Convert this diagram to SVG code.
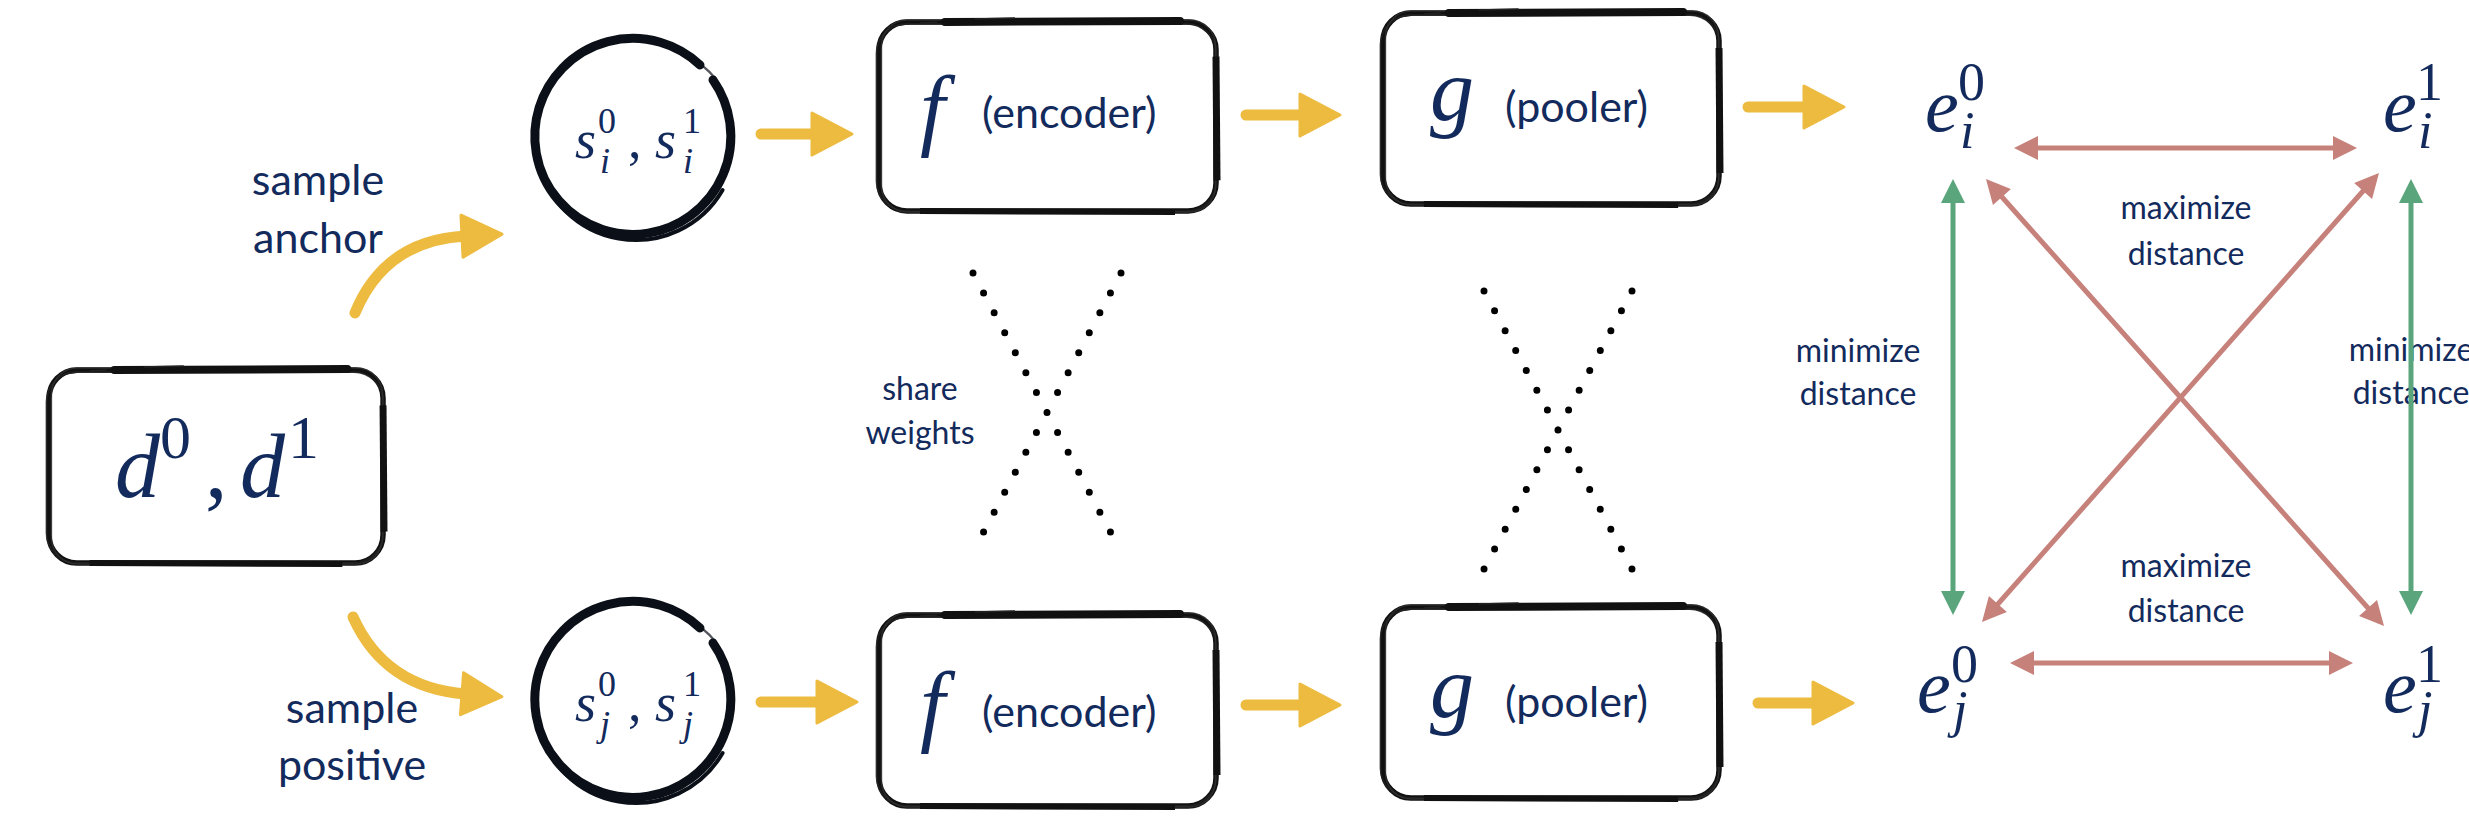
<svg xmlns="http://www.w3.org/2000/svg" width="2469" height="825" viewBox="0 0 2469 825">
<style>
.m{font-family:"Liberation Serif","DejaVu Serif",serif;fill:#132a5c}
.it{font-style:italic}
.lb{font-family:Lato,"Open Sans",sans-serif;fill:#132a5c;text-anchor:middle}
.yl{stroke:#ecbb3f;stroke-width:11;fill:none;stroke-linecap:round;marker-end:url(#yh)}
.rd{stroke:#c7817b;stroke-width:5;fill:none;marker-start:url(#rh);marker-end:url(#rh)}
.gr{stroke:#5aa57b;stroke-width:5;fill:none;marker-start:url(#gh);marker-end:url(#gh)}
.dots{stroke:#000;stroke-width:7;stroke-linecap:round;fill:none}
.cir{fill:none;stroke:#0b1018;stroke-width:9;stroke-linecap:round}
.cirb{fill:none;stroke:#0b1018;stroke-width:4;stroke-linecap:round}
.cirt{fill:none;stroke:#0b1018;stroke-width:2.5;stroke-linecap:round;opacity:.7}
</style>
<defs>
<marker id="yh" markerUnits="userSpaceOnUse" markerWidth="50" markerHeight="50" refX="4" refY="21" orient="auto" overflow="visible">
<path d="M0,0 L40,21 L0,42 Z" fill="#ecbb3f" stroke="#ecbb3f" stroke-width="3" stroke-linejoin="round"/>
</marker>
<marker id="rh" markerUnits="userSpaceOnUse" markerWidth="24" markerHeight="24" refX="16" refY="12" orient="auto-start-reverse" overflow="visible">
<path d="M0,0 L24,12 L0,24 Z" fill="#c7817b"/>
</marker>
<marker id="gh" markerUnits="userSpaceOnUse" markerWidth="24" markerHeight="24" refX="16" refY="12" orient="auto-start-reverse" overflow="visible">
<path d="M0,0 L24,12 L0,24 Z" fill="#5aa57b"/>
</marker>
<symbol id="sbox" viewBox="0 0 345 200" preserveAspectRatio="none" overflow="visible">
<rect x="4" y="5" width="337" height="191" rx="28" fill="#fff" stroke="#111" stroke-width="5.5"/>
<rect x="1.5" y="7" width="340" height="189" rx="30" fill="none" stroke="#222" stroke-width="1.8" opacity=".8"/>
<rect x="6.5" y="3" width="334" height="194" rx="26" fill="none" stroke="#333" stroke-width="1.5" opacity=".7"/>
<path d="M70 5 L305 4" stroke="#111" stroke-width="8" stroke-linecap="round" fill="none"/>
<path d="M341 40 L342 165" stroke="#111" stroke-width="7" fill="none"/>
<path d="M45 196 L300 197" stroke="#111" stroke-width="6" fill="none"/>
<path d="M20 9 L34 7 M45 6 L62 5 M100 2 L140 1" stroke="#222" stroke-width="1.4" fill="none"/>
</symbol>
</defs>
<rect width="2469" height="825" fill="#fff"/>

<g id="connectors">
<path class="yl" d="M355,313 Q385,240 466,236"/>
<path class="yl" d="M353,617 Q385,688 466,694"/>
<path class="yl" d="M761,134 L816,134"/>
<path class="yl" d="M1246,115 L1304,115"/>
<path class="yl" d="M1748,107 L1808,107"/>
<path class="yl" d="M761,702 L821,702"/>
<path class="yl" d="M1246,705 L1304,705"/>
<path class="yl" d="M1758,703 L1817,703"/>
</g>

<g id="shared-weights">
<path class="dots" stroke-dasharray="0 22.56" d="M973,273 L1121,552 M1121,273 L973,552"/>
<path class="dots" stroke-dasharray="0 22.49" d="M1484,291 L1632,569 M1632,291 L1484,569"/>
</g>

<g id="labels">
<text class="lb" font-size="43" x="318" y="195">sample</text>
<text class="lb" font-size="43" x="318" y="253">anchor</text>
<text class="lb" font-size="43" x="352" y="723">sample</text>
<text class="lb" font-size="43" x="352" y="780">positive</text>
<text class="lb" font-size="32" x="920" y="400">share</text>
<text class="lb" font-size="32" x="920" y="444">weights</text>
<text class="lb" font-size="32" x="1858" y="362">minimize</text>
<text class="lb" font-size="32" x="1858" y="405">distance</text>
<text class="lb" font-size="32" x="2411" y="361">minimize</text>
<text class="lb" font-size="32" x="2411" y="404">distance</text>
<text class="lb" font-size="32" x="2186" y="219">maximize</text>
<text class="lb" font-size="32" x="2186" y="265">distance</text>
<text class="lb" font-size="32" x="2186" y="577">maximize</text>
<text class="lb" font-size="32" x="2186" y="622">distance</text>
</g>

<g id="distance-arrows">
<path class="rd" d="M2022,148 L2349,148"/>
<path class="rd" d="M2018,663 L2345,663"/>
<path class="rd" d="M1991.3,185 L2378.7,620"/>
<path class="rd" d="M2373.7,179 L1987.3,616"/>
<path class="gr" d="M1953,187 L1953,607"/>
<path class="gr" d="M2411,187 L2411,607"/>
</g>

<g id="node-d">
<use href="#sbox" x="45" y="365" width="342" height="202"/>
<text class="m"><tspan class="it" x="115" y="497" font-size="90">d</tspan><tspan x="160" y="458" font-size="62">0</tspan><tspan x="205" y="497" font-size="90">,</tspan><tspan class="it" x="240" y="497" font-size="90">d</tspan><tspan x="288" y="458" font-size="62">1</tspan></text>
</g>

<g id="node-si">
<path class="cir" d="M713,80 A98,98 0 1,1 700,65"/>
<path class="cirb" d="M722.6,190 A100,100 0 0,1 537.5,157.4"/>
<path class="cirt" d="M698,63 Q710,70 719,84"/>
<text class="m"><tspan class="it" x="575" y="158" font-size="54">s</tspan><tspan x="598" y="133" font-size="36">0</tspan><tspan class="it" x="600" y="173" font-size="36">i</tspan><tspan x="628" y="158" font-size="54">,</tspan><tspan class="it" x="655" y="158" font-size="54">s</tspan><tspan x="683" y="133" font-size="36">1</tspan><tspan class="it" x="683" y="173" font-size="36">i</tspan></text>
</g>

<g id="node-sj">
<path class="cir" d="M713,643 A98,98 0 1,1 700,628"/>
<path class="cirb" d="M722.6,753 A100,100 0 0,1 537.5,720.4"/>
<path class="cirt" d="M698,626 Q710,633 719,647"/>
<text class="m"><tspan class="it" x="575" y="721" font-size="54">s</tspan><tspan x="598" y="696" font-size="36">0</tspan><tspan class="it" x="600" y="736" font-size="36">j</tspan><tspan x="628" y="721" font-size="54">,</tspan><tspan class="it" x="655" y="721" font-size="54">s</tspan><tspan x="683" y="696" font-size="36">1</tspan><tspan class="it" x="683" y="736" font-size="36">j</tspan></text>
</g>

<g id="node-f-top">
<use href="#sbox" x="875" y="17" width="345" height="198"/>
<text class="m it" x="920" y="139" font-size="90">f</text>
<text class="lb" x="982" y="128" font-size="43" style="text-anchor:start">(encoder)</text>
</g>

<g id="node-f-bottom">
<use href="#sbox" x="875" y="610" width="345" height="200"/>
<text class="m it" x="920" y="735" font-size="90">f</text>
<text class="lb" x="982" y="727" font-size="43" style="text-anchor:start">(encoder)</text>
</g>

<g id="node-g-top">
<use href="#sbox" x="1379" y="8" width="344" height="200"/>
<text class="m it" x="1430" y="120" font-size="88">g</text>
<text class="lb" x="1505" y="122" font-size="43" style="text-anchor:start">(pooler)</text>
</g>

<g id="node-g-bottom">
<use href="#sbox" x="1379" y="602" width="344" height="200"/>
<text class="m it" x="1430" y="717" font-size="88">g</text>
<text class="lb" x="1505" y="717" font-size="43" style="text-anchor:start">(pooler)</text>
</g>

<g id="node-ei0">
<text class="m"><tspan class="it" x="1925" y="131" font-size="76">e</tspan><tspan x="1958" y="100" font-size="54">0</tspan><tspan class="it" x="1960" y="148" font-size="52">i</tspan></text>
</g>
<g id="node-ei1">
<text class="m"><tspan class="it" x="2383" y="131" font-size="76">e</tspan><tspan x="2416" y="100" font-size="54">1</tspan><tspan class="it" x="2418" y="148" font-size="52">i</tspan></text>
</g>
<g id="node-ej0">
<text class="m"><tspan class="it" x="1917" y="712" font-size="76">e</tspan><tspan x="1951" y="682" font-size="54">0</tspan><tspan class="it" x="1953" y="727" font-size="52">j</tspan></text>
</g>
<g id="node-ej1">
<text class="m"><tspan class="it" x="2383" y="712" font-size="76">e</tspan><tspan x="2416" y="682" font-size="54">1</tspan><tspan class="it" x="2418" y="727" font-size="52">j</tspan></text>
</g>
</svg>
